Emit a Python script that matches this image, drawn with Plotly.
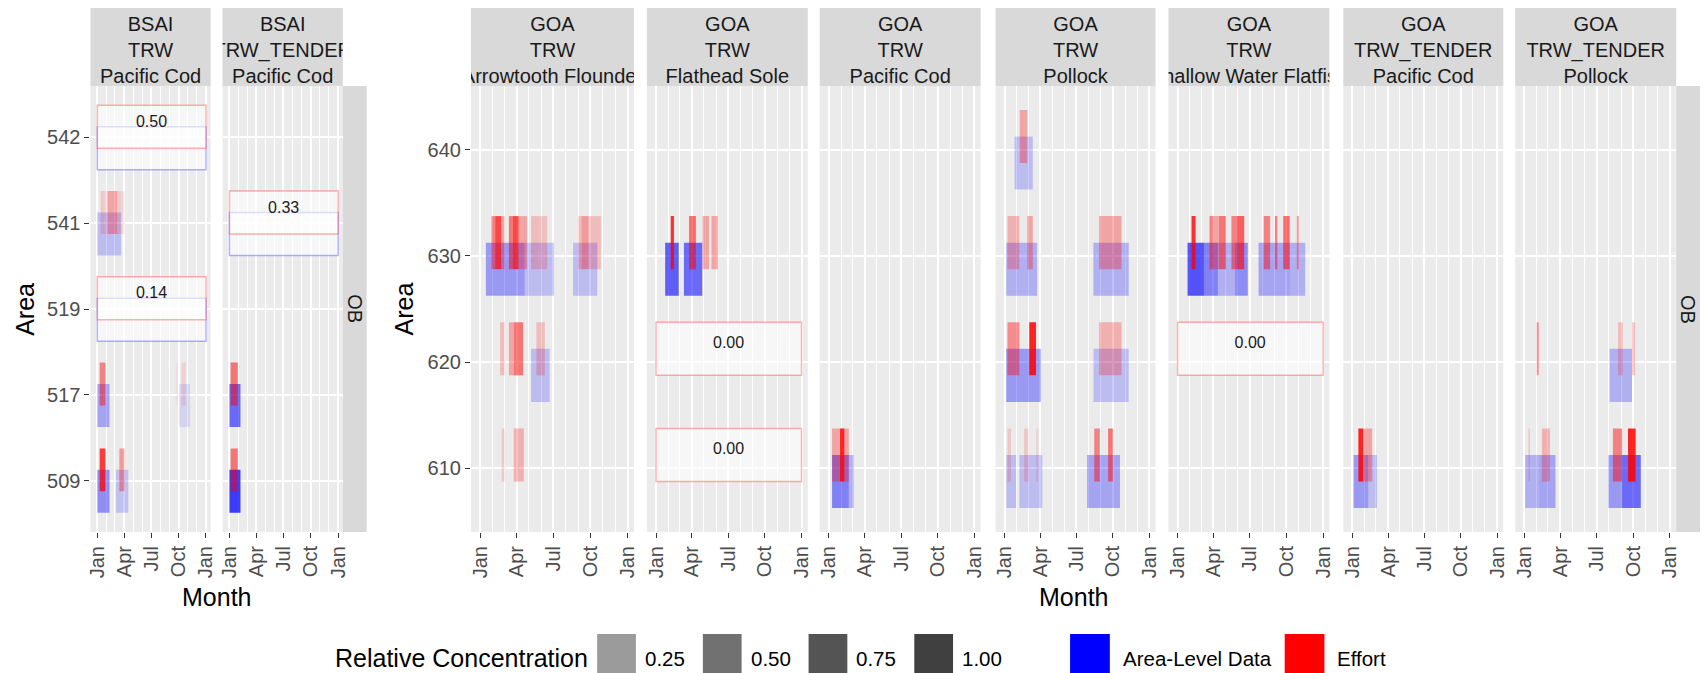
import plotly.graph_objects as go
import pandas as pd

# ---------------- data ----------------
panel_region = ["BSAI", "BSAI", "GOA", "GOA", "GOA", "GOA", "GOA", "GOA", "GOA"]
panel_gear = ["TRW", "TRW_TENDER", "TRW", "TRW", "TRW", "TRW", "TRW", "TRW_TENDER", "TRW_TENDER"]
panel_species = ["Pacific Cod", "Pacific Cod", "Arrowtooth Flounder", "Flathead Sole", "Pacific Cod",
                 "Pollock", "Shallow Water Flatfish", "Pacific Cod", "Pollock"]
bsai_areas = [509, 517, 519, 541, 542]
goa_areas = [610, 620, 630, 640]
sector_label = "OB"
month_ticks = ["2019-01-01", "2019-04-01", "2019-07-01", "2019-10-01", "2020-01-01"]
month_labels = ["Jan", "Apr", "Jul", "Oct", "Jan"]
legend_conc = ["0.25", "0.50", "0.75", "1.00"]

# (panel, area, start, end, relative concentration)
effort = [
    (0, 541, "2019-01-12", "2019-01-23", 0.15), (0, 541, "2019-01-23", "2019-02-05", 0.10),
    (0, 541, "2019-02-05", "2019-03-09", 0.30), (0, 541, "2019-03-09", "2019-03-20", 0.15),
    (0, 541, "2019-03-20", "2019-04-02", 0.10),
    (0, 517, "2019-01-09", "2019-01-28", 0.45), (0, 517, "2019-09-21", "2019-09-29", 0.05),
    (0, 517, "2019-10-10", "2019-10-26", 0.10),
    (0, 509, "2019-01-09", "2019-01-28", 0.75), (0, 509, "2019-03-16", "2019-04-02", 0.35),
    (1, 517, "2019-01-05", "2019-01-29", 0.50), (1, 509, "2019-01-05", "2019-01-29", 0.50),
    (2, 630, "2019-01-29", "2019-02-07", 0.45), (2, 630, "2019-02-07", "2019-02-22", 0.70),
    (2, 630, "2019-02-22", "2019-03-02", 0.30), (2, 630, "2019-03-13", "2019-03-23", 0.50),
    (2, 630, "2019-03-23", "2019-04-06", 0.70), (2, 630, "2019-04-06", "2019-04-27", 0.30),
    (2, 630, "2019-05-07", "2019-05-24", 0.20), (2, 630, "2019-05-24", "2019-06-16", 0.18),
    (2, 630, "2019-09-01", "2019-09-09", 0.20), (2, 630, "2019-09-09", "2019-09-26", 0.35),
    (2, 630, "2019-09-26", "2019-10-27", 0.20),
    (2, 620, "2019-02-19", "2019-03-02", 0.20), (2, 620, "2019-03-13", "2019-03-25", 0.30),
    (2, 620, "2019-03-25", "2019-04-17", 0.50), (2, 620, "2019-05-20", "2019-06-10", 0.20),
    (2, 610, "2019-02-23", "2019-03-02", 0.15), (2, 610, "2019-03-25", "2019-04-19", 0.25),
    (3, 630, "2019-02-07", "2019-02-15", 0.80), (3, 630, "2019-03-25", "2019-04-11", 0.55),
    (3, 630, "2019-04-28", "2019-05-14", 0.30), (3, 630, "2019-05-20", "2019-06-05", 0.30),
    (4, 610, "2019-01-09", "2019-01-29", 0.30), (4, 610, "2019-01-29", "2019-02-09", 0.85),
    (4, 610, "2019-02-09", "2019-02-20", 0.30),
    (5, 640, "2019-02-08", "2019-02-27", 0.30),
    (5, 630, "2019-01-08", "2019-02-07", 0.25), (5, 630, "2019-02-27", "2019-03-13", 0.30),
    (5, 630, "2019-08-27", "2019-10-23", 0.30),
    (5, 620, "2019-01-08", "2019-02-07", 0.40), (5, 620, "2019-03-04", "2019-03-21", 0.85),
    (5, 620, "2019-08-27", "2019-10-23", 0.25),
    (5, 610, "2019-01-08", "2019-01-17", 0.15), (5, 610, "2019-02-19", "2019-03-02", 0.15),
    (5, 610, "2019-03-21", "2019-03-27", 0.10), (5, 610, "2019-08-15", "2019-08-29", 0.45),
    (5, 610, "2019-09-19", "2019-10-01", 0.50),
    (6, 630, "2019-02-05", "2019-02-15", 0.80), (6, 630, "2019-03-22", "2019-04-01", 0.45),
    (6, 630, "2019-04-01", "2019-04-15", 0.30), (6, 630, "2019-04-15", "2019-05-02", 0.50),
    (6, 630, "2019-05-16", "2019-05-29", 0.45), (6, 630, "2019-05-29", "2019-06-17", 0.60),
    (6, 630, "2019-08-05", "2019-08-21", 0.45), (6, 630, "2019-09-02", "2019-09-08", 0.45),
    (6, 630, "2019-09-23", "2019-10-09", 0.55), (6, 630, "2019-10-27", "2019-11-01", 0.35),
    (7, 610, "2019-01-16", "2019-01-28", 0.85), (7, 610, "2019-01-28", "2019-02-20", 0.30),
    (8, 620, "2019-02-01", "2019-02-06", 0.40), (8, 620, "2019-08-24", "2019-09-05", 0.20),
    (8, 620, "2019-09-28", "2019-10-06", 0.20),
    (8, 610, "2019-01-11", "2019-01-15", 0.15), (8, 610, "2019-02-14", "2019-03-06", 0.25),
    (8, 610, "2019-08-11", "2019-09-03", 0.45), (8, 610, "2019-09-18", "2019-10-07", 0.85),
]

area_level = [
    (0, 541, "2019-01-01", "2019-03-22", 0.20),
    (0, 517, "2019-01-01", "2019-02-11", 0.30), (0, 517, "2019-10-02", "2019-11-08", 0.10),
    (0, 509, "2019-01-01", "2019-02-11", 0.40), (0, 509, "2019-03-05", "2019-04-15", 0.18),
    (1, 517, "2019-01-01", "2019-02-07", 0.55), (1, 509, "2019-01-01", "2019-02-07", 0.75),
    (2, 630, "2019-01-15", "2019-04-21", 0.35), (2, 630, "2019-04-21", "2019-07-03", 0.20),
    (2, 630, "2019-08-19", "2019-10-18", 0.20), (2, 620, "2019-05-07", "2019-06-22", 0.20),
    (3, 630, "2019-01-24", "2019-02-27", 0.60), (3, 630, "2019-03-12", "2019-04-27", 0.55),
    (4, 610, "2019-01-09", "2019-02-20", 0.45), (4, 610, "2019-02-20", "2019-03-04", 0.25),
    (5, 640, "2019-01-26", "2019-03-13", 0.20),
    (5, 630, "2019-01-05", "2019-03-24", 0.25), (5, 630, "2019-08-13", "2019-11-10", 0.25),
    (5, 620, "2019-01-05", "2019-04-02", 0.35), (5, 620, "2019-08-13", "2019-11-10", 0.20),
    (5, 610, "2019-01-05", "2019-01-30", 0.20), (5, 610, "2019-02-07", "2019-04-06", 0.20),
    (5, 610, "2019-07-28", "2019-10-19", 0.30),
    (6, 630, "2019-01-26", "2019-03-08", 0.65), (6, 630, "2019-03-08", "2019-04-12", 0.45),
    (6, 630, "2019-04-12", "2019-05-25", 0.25), (6, 630, "2019-05-25", "2019-06-26", 0.40),
    (6, 630, "2019-07-23", "2019-09-04", 0.30), (6, 630, "2019-09-04", "2019-10-11", 0.30),
    (6, 630, "2019-10-11", "2019-11-17", 0.25),
    (7, 610, "2019-01-04", "2019-02-10", 0.35), (7, 610, "2019-02-10", "2019-03-04", 0.20),
    (8, 620, "2019-08-03", "2019-09-28", 0.25),
    (8, 610, "2019-01-03", "2019-02-06", 0.25), (8, 610, "2019-02-06", "2019-03-20", 0.30),
    (8, 610, "2019-07-31", "2019-09-03", 0.35), (8, 610, "2019-09-03", "2019-10-20", 0.55),
]

# (panel, area, label, has area-level box)
summary = [
    (0, 542, "0.50", True), (0, 519, "0.14", True), (1, 541, "0.33", True),
    (3, 620, "0.00", False), (3, 610, "0.00", False), (6, 620, "0.00", False),
]
summary_start, summary_end = "2019-01-01", "2020-01-01"

# ---------------- layout geometry (px) ----------------
W, H = 1705, 673
panel_left = [86, 219, 469, 646, 820, 997, 1171, 1347, 1520]
panel_right = [207, 340, 633, 808, 982, 1158, 1333, 1508, 1682]
strip_top, strip_bot, plot_bot = 8, 86, 532
x_range = ["2018-12-09", "2020-01-16 17:00"]
minor_vals = [d.strftime("%Y-%m-%d") for d in pd.date_range("2019-01-01", "2020-01-01", freq="MS")]

FONT = "Liberation Sans, Arial, sans-serif"
BG, STRIP = "#ebebeb", "#d9d9d9"
TICK_SIZE, TITLE_SIZE = 20, 25


def px(x):
    return x / W


def py(y):
    return 1 - y / H


def sfx(n):
    return "" if n == 1 else str(n)


def ms(s, e):
    return (pd.Timestamp(e) - pd.Timestamp(s)).total_seconds() * 1000


def note(x, y, text, size, color="#000000", angle=0, xanchor="center"):
    return dict(x=px(x), y=py(y), xref="paper", yref="paper", text=text, textangle=angle,
                showarrow=False, xanchor=xanchor, yanchor="middle",
                font=dict(size=size, color=color, family=FONT))


fig = go.Figure()
axes = {}
shapes = []
annotations = []

for i in range(9):
    n = i + 1
    areas = bsai_areas if panel_region[i] == "BSAI" else goa_areas
    idx = {a: k + 1 for k, a in enumerate(areas)}
    xa, ya = "x" + sfx(n), "y" + sfx(n)

    # summary boxes (effort box for all, area-level box where present)
    rows = [r for r in summary if r[0] == i]
    for with_area in (True, False):
        sub = [r for r in rows if r[3]] if with_area else rows
        if not sub:
            continue
        off = -0.125 if with_area else 0.125
        col = "rgba(0,0,255,0.3)" if with_area else "rgba(255,0,0,0.3)"
        fig.add_trace(go.Bar(
            orientation="h", base=[summary_start] * len(sub),
            x=[ms(summary_start, summary_end)] * len(sub),
            y=[idx[r[1]] + off for r in sub], width=0.5,
            marker=dict(color="rgba(255,255,255,0.6)", line=dict(color=col, width=1.5)),
            xaxis=xa, yaxis=ya, showlegend=False, hoverinfo="skip"))

    # area-level data
    rows = [r for r in area_level if r[0] == i]
    if rows:
        fig.add_trace(go.Bar(
            orientation="h", base=[r[2] for r in rows], x=[ms(r[2], r[3]) for r in rows],
            y=[idx[r[1]] - 0.125 for r in rows], width=0.5,
            marker=dict(color=[f"rgba(0,0,255,{r[4]})" for r in rows], line=dict(width=0)),
            xaxis=xa, yaxis=ya, showlegend=False, hoverinfo="skip"))
    # effort
    rows = [r for r in effort if r[0] == i]
    if rows:
        fig.add_trace(go.Bar(
            orientation="h", base=[r[2] for r in rows], x=[ms(r[2], r[3]) for r in rows],
            y=[idx[r[1]] + 0.125 for r in rows], width=0.5,
            marker=dict(color=[f"rgba(255,0,0,{r[4]})" for r in rows], line=dict(width=0)),
            xaxis=xa, yaxis=ya, showlegend=False, hoverinfo="skip"))

    # summary labels
    rows = [r for r in summary if r[0] == i]
    if rows:
        mid = pd.Timestamp(summary_start) + (pd.Timestamp(summary_end) - pd.Timestamp(summary_start)) / 2
        fig.add_trace(go.Scatter(
            x=[mid.strftime("%Y-%m-%d")] * len(rows), y=[idx[r[1]] + 0.17 for r in rows],
            mode="text", text=[r[2] for r in rows], textposition="middle center",
            textfont=dict(size=16, color="#1a1a1a", family=FONT),
            xaxis=xa, yaxis=ya, showlegend=False, hoverinfo="skip"))

    first = (i == 0) or (i == 2)
    axes["xaxis" + sfx(n)] = dict(
        domain=[px(panel_left[i]), px(panel_right[i])], anchor=ya, type="date", range=x_range,
        tickmode="array", tickvals=month_ticks, ticktext=month_labels, tickangle=-90,
        ticks="outside", ticklen=5, tickwidth=1.3, tickcolor="#333333",
        tickfont=dict(size=TICK_SIZE, color="#4d4d4d", family=FONT),
        showgrid=True, gridcolor="white", gridwidth=1.5,
        minor=dict(tickmode="array", tickvals=minor_vals, showgrid=True, gridcolor="white",
                   gridwidth=1.2, ticks=""),
        zeroline=False, showline=False, fixedrange=True)
    axes["yaxis" + sfx(n)] = dict(
        domain=[py(plot_bot), py(strip_bot)], anchor=xa, range=[0.4, len(areas) + 0.6],
        tickmode="array", tickvals=list(range(1, len(areas) + 1)), ticktext=[str(a) for a in areas],
        showticklabels=first, ticks="outside" if first else "", ticklen=5, tickwidth=1.3,
        tickcolor="#333333", tickfont=dict(size=TICK_SIZE, color="#4d4d4d", family=FONT),
        showgrid=True, gridcolor="white", gridwidth=1.5, zeroline=False, showline=False,
        fixedrange=True)

    # panel background and strip background
    shapes.append(dict(type="rect", xref="paper", yref="paper", layer="below",
                       x0=px(panel_left[i]), x1=px(panel_right[i]), y0=py(plot_bot), y1=py(strip_bot),
                       fillcolor=BG, line=dict(width=0)))
    shapes.append(dict(type="rect", xref="paper", yref="paper", layer="below",
                       x0=px(panel_left[i]), x1=px(panel_right[i]), y0=py(strip_bot), y1=py(strip_top),
                       fillcolor=STRIP, line=dict(width=0)))

    # strip text (clipped to its strip)
    m = 10 + i
    axes["xaxis" + str(m)] = dict(domain=[px(panel_left[i]), px(panel_right[i])], anchor="y" + str(m),
                                  range=[0, 1], visible=False, fixedrange=True)
    axes["yaxis" + str(m)] = dict(domain=[py(strip_bot), py(strip_top)], anchor="x" + str(m),
                                  range=[0, 1], visible=False, fixedrange=True)
    fig.add_trace(go.Scatter(
        x=[0.5], y=[0.43], mode="text",
        text=[f"{panel_region[i]}<br>{panel_gear[i]}<br>{panel_species[i]}"],
        textposition="middle center", textfont=dict(size=20, color="#1a1a1a", family=FONT),
        cliponaxis=True, xaxis="x" + str(m), yaxis="y" + str(m), showlegend=False, hoverinfo="skip"))

# row strips
for x0, x1 in [(340, 364), (1682, 1706)]:
    shapes.append(dict(type="rect", xref="paper", yref="paper", layer="below",
                       x0=px(x0), x1=px(x1), y0=py(plot_bot), y1=py(strip_bot),
                       fillcolor=STRIP, line=dict(width=0)))
    annotations.append(note((x0 + x1) / 2, (plot_bot + strip_bot) / 2, sector_label, 20,
                            "#1a1a1a", angle=90))

# axis titles
for xc in [20, 402]:
    annotations.append(note(xc, (plot_bot + strip_bot) / 2, "Area", TITLE_SIZE, angle=-90))
for xc in [(panel_left[0] + panel_right[1]) / 2, (panel_left[2] + panel_right[8]) / 2]:
    annotations.append(note(xc, 597, "Month", TITLE_SIZE))

# legend
leg_y = 658
annotations.append(note(330, leg_y, "Relative Concentration", TITLE_SIZE, xanchor="left"))
gray_keys = ["#9b9b9b", "#717171", "#545454", "#404040"]
for k, lab in enumerate(legend_conc):
    x0 = 596 + 106.4 * k
    shapes.append(dict(type="rect", xref="paper", yref="paper", x0=px(x0), x1=px(x0 + 39),
                       y0=py(674), y1=py(634), fillcolor=gray_keys[k], line=dict(width=0)))
    annotations.append(note(x0 + 46, leg_y, lab, 20.5, xanchor="left"))
for x0, col, lab in [(1072, "#0000ff", "Area-Level Data"), (1288, "#ff0000", "Effort")]:
    shapes.append(dict(type="rect", xref="paper", yref="paper", x0=px(x0), x1=px(x0 + 40),
                       y0=py(674), y1=py(634), fillcolor=col, line=dict(width=0)))
    annotations.append(note(x0 + 51, leg_y, lab, 20.5, xanchor="left"))

fig.update_layout(
    width=W, height=H, margin=dict(l=0, r=0, t=0, b=0), autosize=False,
    paper_bgcolor="white", plot_bgcolor="rgba(0,0,0,0)", barmode="overlay",
    showlegend=False, hovermode=False, font=dict(family=FONT),
    shapes=shapes, annotations=annotations, **axes)

fig.write_html("out.html")
